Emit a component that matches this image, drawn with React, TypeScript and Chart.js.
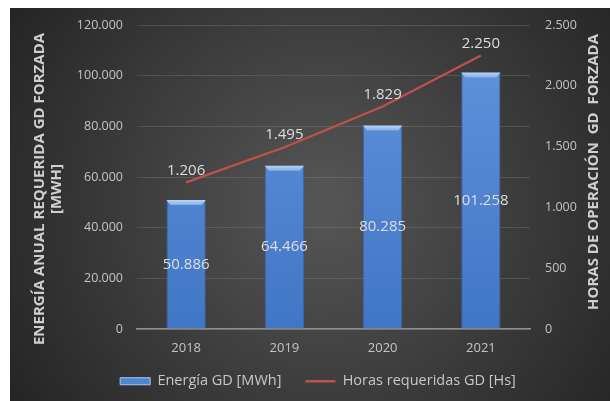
import React, { useEffect, useRef } from "react";
import { Chart, registerables } from "chart.js";

Chart.register(...registerables);

const years = ["2018", "2019", "2020", "2021"];
const energyMWh = [50886, 64466, 80285, 101258];
const hoursRequired = [1206, 1495, 1829, 2250];
const seriesNames = ["Energía GD [MWh]", "Horas requeridas GD [Hs]"];
const leftTitle = ["ENERGÍA ANUAL REQUERIDA GD FORZADA", "[MWH]"];
const rightTitle = "HORAS DE OPERACIÓN  GD  FORZADA";
const leftMax = 120000;
const leftStep = 20000;
const rightMax = 2500;
const rightStep = 500;

const FONT = '"Open Sans", "Noto Sans", sans-serif';
const fmt = (n: number) =>
  Math.round(n).toString().replace(/\B(?=(\d{3})+(?!\d))/g, ".");

export default function App() {
  const ref = useRef<HTMLCanvasElement>(null);

  useEffect(() => {
    const canvas = ref.current!;

    const bgPlugin = {
      id: "bg",
      beforeDraw(chart: any) {
        const { ctx, width, height } = chart;
        ctx.save();
        const g = ctx.createRadialGradient(
          width * 0.52, height * 0.5, 10,
          width * 0.52, height * 0.5, width * 0.62
        );
        g.addColorStop(0, "#555555");
        g.addColorStop(1, "#242424");
        ctx.fillStyle = g;
        ctx.fillRect(0, 0, width, height);
        ctx.restore();
      },
    };

    const legendFix = {
      id: "legendFix",
      afterInit(chart: any) {
        const l = chart.legend;
        if (l && !l.__patched) {
          const orig = l.fit.bind(l);
          l.fit = function () {
            orig();
            this.height = 33;
          };
          l.__patched = true;
        }
      },
      afterLayout(chart: any) {
        const l = chart.legend;
        if (l) {
          l.left += 8;
          l.right += 8;
          l.top -= 15;
          l.bottom = l.top + 50;
        }
      },
    };

    const decor = {
      id: "decor",
      afterDatasetsDraw(chart: any) {
        const ctx = chart.ctx;
        const barMeta = chart.getDatasetMeta(0);
        const lineMeta = chart.getDatasetMeta(1);
        ctx.save();
        barMeta.data.forEach((el: any) => {
          const { x, y, width } = el.getProps(["x", "y", "width"], true);
          const l = x - width / 2;
          const r = x + width / 2;
          const g = ctx.createLinearGradient(0, y, 0, y + 6);
          g.addColorStop(0, "#b9d4f5");
          g.addColorStop(1, "#7aa6e4");
          ctx.fillStyle = g;
          ctx.beginPath();
          ctx.moveTo(l, y);
          ctx.lineTo(r, y);
          ctx.lineTo(r - 4, y + 5);
          ctx.lineTo(l + 4, y + 5);
          ctx.closePath();
          ctx.fill();
        });
        ctx.font = `15px ${FONT}`;
        ctx.fillStyle = "#dedede";
        ctx.textAlign = "center";
        ctx.textBaseline = "middle";
        const d0 = chart.data.datasets[0].data;
        const d1 = chart.data.datasets[1].data;
        barMeta.data.forEach((el: any, i: number) => {
          const { x, y, base } = el.getProps(["x", "y", "base"], true);
          ctx.fillText(fmt(d0[i]), x, (y + base) / 2);
        });
        lineMeta.data.forEach((el: any, i: number) => {
          ctx.fillText(fmt(d1[i]), el.x, el.y - 12);
        });
        ctx.restore();
      },
      afterDraw(chart: any) {
        const ctx = chart.ctx;
        ctx.save();
        ctx.font = `bold 15px ${FONT}`;
        ctx.fillStyle = "#cfcfcf";
        ctx.textAlign = "center";
        ctx.textBaseline = "middle";
        ctx.translate(30, 181);
        ctx.rotate(-Math.PI / 2);
        leftTitle.forEach((t, i) => ctx.fillText(t, 0, i * 17));
        ctx.restore();
        ctx.save();
        ctx.font = `bold 15px ${FONT}`;
        ctx.fillStyle = "#cfcfcf";
        ctx.textAlign = "center";
        ctx.textBaseline = "middle";
        ctx.translate(584, 164);
        ctx.rotate(-Math.PI / 2);
        ctx.fillText(rightTitle, 0, 0);
        ctx.restore();
      },
    };

    const noPad = (s: any, w: number) => {
      s.width = w;
      s.paddingTop = 0;
      s.paddingBottom = 0;
    };

    const chart = new Chart(canvas, {
      type: "bar",
      data: {
        labels: years,
        datasets: [
          {
            type: "bar",
            label: seriesNames[0],
            data: energyMWh,
            yAxisID: "y",
            backgroundColor: (c: any) => {
              const ca = c.chart.chartArea;
              if (!ca) return "#4f81c7";
              const g = c.chart.ctx.createLinearGradient(0, ca.top, 0, ca.bottom);
              g.addColorStop(0, "#6395dd");
              g.addColorStop(1, "#4176c6");
              return g;
            },
            borderColor: "#3a66a8",
            borderWidth: 1,
            categoryPercentage: 1,
            barPercentage: 0.4,
          },
          {
            type: "line",
            label: seriesNames[1],
            data: hoursRequired,
            yAxisID: "y1",
            borderColor: "#c0504d",
            backgroundColor: "#c0504d",
            borderWidth: 2.25,
            pointRadius: 0,
            tension: 0,
          },
        ],
      },
      options: {
        animation: false,
        responsive: false,
        maintainAspectRatio: false,
        layout: { padding: { top: 17, bottom: 3, left: 0, right: 0 } },
        plugins: {
          tooltip: { enabled: false },
          legend: {
            position: "bottom",
            labels: {
              color: "#c8c8c8",
              font: { family: FONT, size: 14.5 },
              usePointStyle: true,
              pointStyleWidth: 30,
              boxHeight: 7,
              padding: 24,
              generateLabels: (chart: any) =>
                chart.data.datasets.map((ds: any, i: number) =>
                  i === 0
                    ? {
                        text: ds.label,
                        fillStyle: "#4f86d2",
                        strokeStyle: "#a8c8f0",
                        lineWidth: 1,
                        pointStyle: "rect",
                        fontColor: "#c8c8c8",
                        datasetIndex: i,
                      }
                    : {
                        text: ds.label,
                        fillStyle: "#c0504d",
                        strokeStyle: "#c0504d",
                        lineWidth: 2.5,
                        pointStyle: "line",
                        fontColor: "#c8c8c8",
                        datasetIndex: i,
                      }
                ),
            },
          },
        },
        scales: {
          x: {
            grid: { display: false, drawTicks: false },
            border: { display: true, color: "#8f8f8f", width: 1.5 },
            ticks: { color: "#c4c4c4", font: { family: FONT, size: 13 }, padding: 11 },
            afterFit: (s: any) => {
              s.height = 36;
            },
          },
          y: {
            position: "left",
            min: 0,
            max: leftMax,
            grid: { color: "rgba(255,255,255,0.12)", drawTicks: false },
            border: { display: false },
            ticks: {
              stepSize: leftStep,
              color: "#c4c4c4",
              font: { family: FONT, size: 12.5 },
              padding: 14,
              callback: (v: any) => fmt(Number(v)),
            },
            afterFit: (s: any) => noPad(s, 127),
          },
          y1: {
            position: "right",
            min: 0,
            max: rightMax,
            grid: { display: false, drawTicks: false },
            border: { display: false },
            ticks: {
              stepSize: rightStep,
              color: "#c4c4c4",
              font: { family: FONT, size: 12.5 },
              padding: 15,
              callback: (v: any) => fmt(Number(v)),
            },
            afterFit: (s: any) => noPad(s, 80),
          },
        },
      } as any,
      plugins: [bgPlugin, legendFix, decor],
    });

    return () => chart.destroy();
  }, []);

  return (
    <div style={{ position: "fixed", left: 10, top: 8, width: 600, height: 393 }}>
      <canvas ref={ref} width={600} height={393} style={{ display: "block", width: 600, height: 393 }} />
    </div>
  );
}
